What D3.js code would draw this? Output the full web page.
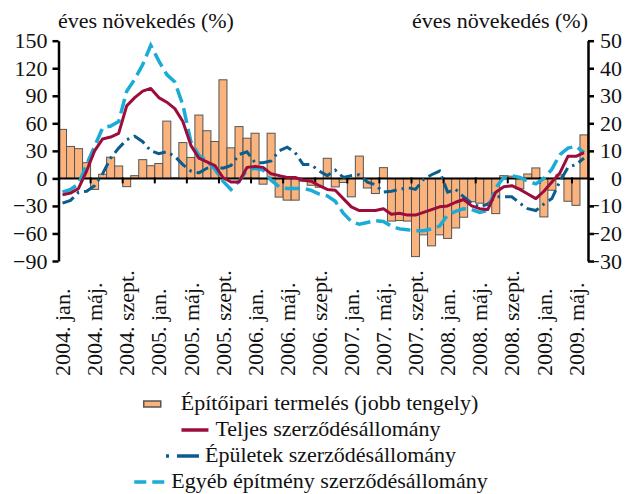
<!DOCTYPE html>
<html>
<head>
<meta charset="utf-8">
<script src="https://cdn.jsdelivr.net/npm/d3@7"></script>
<style>
  body { margin: 0; background: #fff; }
  svg text { font-family: "Liberation Serif", "DejaVu Serif", serif; }
</style>
</head>
<body>
<svg id="chart" width="634" height="494"></svg>
<script>
// months 2004 jan .. 2009 jun
const years = [2004, 2005, 2006, 2007, 2008, 2009];
const monthNames = ['jan.', 'febr.', 'márc.', 'ápr.', 'máj.', 'jún.', 'júl.', 'aug.', 'szept.', 'okt.', 'nov.', 'dec.'];
const categories = [];
years.forEach(y => monthNames.forEach(m => categories.push(y + '. ' + m)));
categories.length = 66;

const tickLabels = ['2004. jan.', '2004. máj.', '2004. szept.', '2005. jan.', '2005. máj.', '2005. szept.',
  '2006. jan.', '2006. máj.', '2006. szept.', '2007. jan.', '2007. máj.', '2007. szept.',
  '2008. jan.', '2008. máj.', '2008. szept.', '2009. jan.', '2009. máj.'];

// Építőipari termelés (jobb tengely)
const termeles = [17.8, 11.6, 10.8, 5.7, -4.0, 1.5, 7.7, 4.5, -3.0, 1.0,
  6.8, 4.6, 5.4, 20.8, 0.2, 13.0, 7.6, 23.0, 17.3, 13.4,
  35.8, 11.1, 18.8, 14.6, 16.4, -2.1, 16.4, -6.8, -7.9, -7.9,
  -1.0, -2.5, -3.2, 7.3, -3.1, -1.5, -6.7, 8.1, -3.5, -5.5,
  3.9, -15.5, -15.3, -15.5, -28.4, -20.5, -24.5, -20.5, -21.8, -18.0,
  -14.1, -8.5, -9.0, -9.6, -12.8, 1.0, 0.8, -3.8, 1.6, 3.8,
  -14.0, -4.3, 1.3, -8.3, -9.8, 15.8];

// Teljes szerződésállomány
const teljes = [-18, -16, -11, 8, 30, 43, 45, 49, 79, 88,
  95, 98, 88, 83, 76, 62, 36, 22, 18, 14,
  1, -4, -4, 12, 13, 12, 5, 3, 1, 1,
  -2, -3, -8, -12, -13, -22, -31, -35, -35, -35,
  -33, -39, -38, -40, -40, -37, -34, -31, -30, -26,
  -23, -30, -33, -34, -15, -9, -8, -12, -17, -22,
  -14, -4, 6, 24, 24, 28];

// Épületek szerződésállomány
const epuletek = [-27, -24, -15, -14, -8, 5, 22, 33, 42, 46,
  40, 30, 27, 29, 24, 15, 8, 6, 11, 13,
  11, 14, 26, 29, 17, 17, 19, 30, 34, 28,
  15, 15, 8, 3, 9, 1, 3, 4, -4, -7,
  -15, -14, -12, -10, -12, -1, 4, 8, -15, -12,
  -20, -27, -31, -28, -20, -20, -20, -27, -33, -35,
  -28, -22, -3, 12, 15, 22];

// Egyéb építmény szerződésállomány
const egyeb = [-15, -12, -6, 15, 35, 55, 57, 62, 95, 108,
  124, 145, 128, 113, 105, 80, 40, 25, 19, 10,
  -3, -12, -3, 9, 11, 9, -2, -9, -11, -11,
  -11, -13, -17, -19, -25, -38, -47, -50, -48, -46,
  -47, -52, -55, -56, -57, -57, -55, -52, -40, -36,
  -33, -34, -37, -35, -10, 1, 3, 1, -3, -6,
  0, 10, 26, 33, 35, 28];

const leftTicks = [-90, -60, -30, 0, 30, 60, 90, 120, 150];
const rightTicks = [-30, -20, -10, 0, 10, 20, 30, 40, 50];

const FONT = 22;
const SERIF = '"Liberation Serif", "DejaVu Serif", serif';
const C_BAR = '#fbb37e', C_BAR_EDGE = '#555';
const C_RED = '#9c0d3b', C_BLUE = '#0a5d8c', C_CYAN = '#19acd6';

const svg = d3.select('#chart').attr('font-family', SERIF);
const x0 = 58.5, x1 = 588, yTop = 40.7, yBot = 261;

const x = d3.scaleBand().domain(d3.range(categories.length)).range([x0, x1]).padding(0);
const bw = x.bandwidth();
const cx = i => x(i) + bw / 2;
const yL = d3.scaleLinear().domain([-90, 150]).range([yBot, yTop]);
const yR = d3.scaleLinear().domain([-30, 50]).range([yBot, yTop]);

// bars
svg.append('g').selectAll('rect')
  .data(termeles)
  .join('rect')
  .attr('x', (d, i) => x(i))
  .attr('width', bw)
  .attr('y', d => yR(Math.max(0, d)))
  .attr('height', d => Math.abs(yR(d) - yR(0)))
  .attr('fill', C_BAR)
  .attr('stroke', C_BAR_EDGE)
  .attr('stroke-width', 1);

// zero line + category ticks
const y0 = yL(0);
svg.append('line').attr('x1', x0).attr('x2', x1).attr('y1', y0).attr('y2', y0)
  .attr('stroke', '#000').attr('stroke-width', 2);
svg.append('g').selectAll('line')
  .data(d3.range(4, categories.length, 4))
  .join('line')
  .attr('x1', k => x0 + k * bw).attr('x2', k => x0 + k * bw)
  .attr('y1', y0 - 1).attr('y2', y0 + 5)
  .attr('stroke', '#000').attr('stroke-width', 2);

// lines
const line = data => d3.line().x((d, i) => cx(i)).y(d => yL(d))(data);
svg.append('path').attr('d', line(epuletek)).attr('fill', 'none')
  .attr('stroke', C_BLUE).attr('stroke-width', 3).attr('stroke-dasharray', '13,5,2.5,5');
svg.append('path').attr('d', line(egyeb)).attr('fill', 'none')
  .attr('stroke', C_CYAN).attr('stroke-width', 3.5).attr('stroke-dasharray', '15,6');
svg.append('path').attr('d', line(teljes)).attr('fill', 'none')
  .attr('stroke', C_RED).attr('stroke-width', 3).attr('stroke-linejoin', 'round');

// axes
const gl = svg.append('g').attr('transform', `translate(${x0},0)`)
  .call(d3.axisLeft(yL).tickValues(leftTicks).tickSize(6).tickSizeOuter(0).tickPadding(5));
const gr = svg.append('g').attr('transform', `translate(${x1},0)`)
  .call(d3.axisRight(yR).tickValues(rightTicks).tickSize(6).tickSizeOuter(0));
[gl, gr].forEach(g => {
  g.attr('font-family', SERIF).attr('font-size', FONT);
  g.select('.domain').attr('stroke', '#000').attr('stroke-width', 2.5);
  g.selectAll('.tick line').attr('stroke', '#000').attr('stroke-width', 2.5);
  g.selectAll('.tick text').attr('fill', '#111');
});
gr.selectAll('.tick text').attr('text-anchor', 'end').attr('x', 34);

// x labels
svg.append('g').selectAll('text')
  .data(tickLabels)
  .join('text')
  .attr('transform', (d, k) => `translate(${cx(k * 4)},376) rotate(-90)`)
  .attr('dy', '0.35em')
  .attr('font-size', FONT)
  .attr('fill', '#111')
  .text(d => d);

// axis titles
svg.append('text').attr('x', 58).attr('y', 28).attr('font-size', FONT).attr('fill', '#111')
  .text('éves növekedés (%)');
svg.append('text').attr('x', 588).attr('y', 28).attr('text-anchor', 'end').attr('font-size', FONT).attr('fill', '#111')
  .text('éves növekedés (%)');

// legend
const legend = [
  { label: 'Építőipari termelés (jobb tengely)', type: 'bar', y: 404, sw: 17, gap: 20 },
  { label: 'Teljes szerződésállomány', type: 'red', y: 430, sw: 27, gap: 7 },
  { label: 'Épületek szerződésállomány', type: 'blue', y: 456, sw: 33, gap: 6 },
  { label: 'Egyéb építmény szerződésállomány', type: 'cyan', y: 482, sw: 30, gap: 7 }
];
const legendCx = 311;
legend.forEach(item => {
  const g = svg.append('g');
  const t = g.append('text').attr('y', item.y + 6).attr('font-size', FONT).attr('fill', '#111').text(item.label);
  const tw = t.node().getComputedTextLength();
  const start = legendCx - (item.sw + item.gap + tw) / 2;
  t.attr('x', start + item.sw + item.gap);
  if (item.type === 'bar') {
    g.append('rect').attr('x', start).attr('y', item.y - 3).attr('width', item.sw).attr('height', 6)
      .attr('fill', C_BAR).attr('stroke', C_BAR_EDGE).attr('stroke-width', 1.5);
  } else {
    const ln = g.append('line').attr('x1', start).attr('x2', start + item.sw)
      .attr('y1', item.y).attr('y2', item.y).attr('stroke-width', 3.5);
    if (item.type === 'red') ln.attr('stroke', C_RED);
    if (item.type === 'blue') ln.attr('stroke', C_BLUE).attr('stroke-dasharray', '3,8,22');
    if (item.type === 'cyan') ln.attr('stroke', C_CYAN).attr('stroke-dasharray', '12,6');
  }
});
</script>
</body>
</html>
